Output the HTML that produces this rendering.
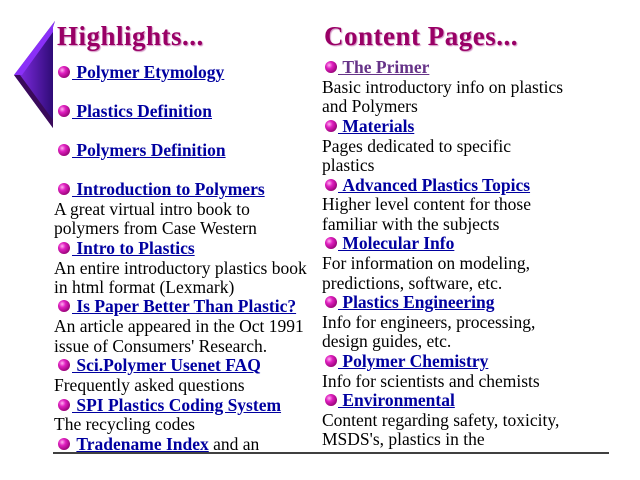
<!DOCTYPE html>
<html><head><meta charset="utf-8"><style>
body{margin:0;width:640px;height:480px;background:#fff;position:relative;overflow:hidden;font-family:"Liberation Serif",serif;}
.l{position:absolute;font-size:17.5px;line-height:19px;white-space:nowrap;color:#000;}
.a{font-weight:bold;color:#0000a0;text-decoration:underline;}
.v{color:#663388;}
.b{position:absolute;width:12px;height:12px;border-radius:50%;background:radial-gradient(circle at 35% 35%,#ffb0f0 0,#e020c0 30%,#900070 80%);}
h2{position:absolute;margin:0;font-size:27px;font-weight:bold;color:#990066;text-shadow:1px 1px 1px #d090c0;letter-spacing:0.5px;line-height:30px;}
</style></head><body>
<svg width="640" height="480" style="position:absolute;left:0;top:0">
<defs><linearGradient id="g" x1="0" y1="0" x2="1" y2="0"><stop offset="0" stop-color="#8a2ef0"/><stop offset="1" stop-color="#2a0a70"/></linearGradient></defs>
<polygon points="55,21 14,75 53,128 53,27" fill="url(#g)"/>
<polygon points="55,21 14,75 22,75 53,32 53,27" fill="#8a30f8"/>
<polygon points="14,75 53,128 53,120 20,75" fill="#3a0a5a"/>
<line x1="53" y1="453" x2="609" y2="453" stroke="#000" stroke-width="1.5"/>
</svg>
<h2 style="left:57px;top:21px">Highlights...</h2>
<h2 style="left:324px;top:21px">Content Pages...</h2>

<div class="b" style="left:58px;top:66px"></div><div class="l" style="left:72px;top:63px"><span class="a">&nbsp;Polymer Etymology</span></div>
<div class="b" style="left:58px;top:105px"></div><div class="l" style="left:72px;top:102px"><span class="a">&nbsp;Plastics Definition</span></div>
<div class="b" style="left:58px;top:144px"></div><div class="l" style="left:72px;top:141px"><span class="a">&nbsp;Polymers Definition</span></div>
<div class="b" style="left:58px;top:183px"></div><div class="l" style="left:72px;top:180px"><span class="a">&nbsp;Introduction to Polymers</span></div>
<div class="l" style="left:54px;top:200px">A great virtual intro book to</div>
<div class="l" style="left:54px;top:219px">polymers from Case Western</div>
<div class="b" style="left:58px;top:242px"></div><div class="l" style="left:72px;top:239px"><span class="a">&nbsp;Intro to Plastics</span></div>
<div class="l" style="left:54px;top:259px">An entire introductory plastics book</div>
<div class="l" style="left:54px;top:278px">in html format (Lexmark)</div>
<div class="b" style="left:58px;top:300px"></div><div class="l" style="left:72px;top:297px"><span class="a">&nbsp;Is Paper Better Than Plastic?</span></div>
<div class="l" style="left:54px;top:317px">An article appeared in the Oct 1991</div>
<div class="l" style="left:54px;top:337px">issue of Consumers' Research.</div>
<div class="b" style="left:58px;top:359px"></div><div class="l" style="left:72px;top:356px"><span class="a">&nbsp;Sci.Polymer Usenet FAQ</span></div>
<div class="l" style="left:54px;top:376px">Frequently asked questions</div>
<div class="b" style="left:58px;top:399px"></div><div class="l" style="left:72px;top:396px"><span class="a">&nbsp;SPI Plastics Coding System</span></div>
<div class="l" style="left:54px;top:415px">The recycling codes</div>
<div class="b" style="left:58px;top:438px"></div><div class="l" style="left:72px;top:435px"><span class="a" style="text-decoration:none">&nbsp;<u>Tradename Index</u></span> and an</div>

<div class="b" style="left:325px;top:61px"></div><div class="l" style="left:338px;top:58px"><span class="a v">&nbsp;The Primer</span></div>
<div class="l" style="left:322px;top:78px">Basic introductory info on plastics</div>
<div class="l" style="left:322px;top:97px">and Polymers</div>
<div class="b" style="left:325px;top:120px"></div><div class="l" style="left:338px;top:117px"><span class="a">&nbsp;Materials</span></div>
<div class="l" style="left:322px;top:137px">Pages dedicated to specific</div>
<div class="l" style="left:322px;top:156px">plastics</div>
<div class="b" style="left:325px;top:179px"></div><div class="l" style="left:338px;top:176px"><span class="a">&nbsp;Advanced Plastics Topics</span></div>
<div class="l" style="left:322px;top:195px">Higher level content for those</div>
<div class="l" style="left:322px;top:215px">familiar with the subjects</div>
<div class="b" style="left:325px;top:237px"></div><div class="l" style="left:338px;top:234px"><span class="a">&nbsp;Molecular Info</span></div>
<div class="l" style="left:322px;top:254px">For information on modeling,</div>
<div class="l" style="left:322px;top:274px">predictions, software, etc.</div>
<div class="b" style="left:325px;top:296px"></div><div class="l" style="left:338px;top:293px"><span class="a">&nbsp;Plastics Engineering</span></div>
<div class="l" style="left:322px;top:313px">Info for engineers, processing,</div>
<div class="l" style="left:322px;top:332px">design guides, etc.</div>
<div class="b" style="left:325px;top:355px"></div><div class="l" style="left:338px;top:352px"><span class="a">&nbsp;Polymer Chemistry</span></div>
<div class="l" style="left:322px;top:372px">Info for scientists and chemists</div>
<div class="b" style="left:325px;top:394px"></div><div class="l" style="left:338px;top:391px"><span class="a">&nbsp;Environmental</span></div>
<div class="l" style="left:322px;top:411px">Content regarding safety, toxicity,</div>
<div class="l" style="left:322px;top:430px">MSDS's, plastics in the</div>
</body></html>
